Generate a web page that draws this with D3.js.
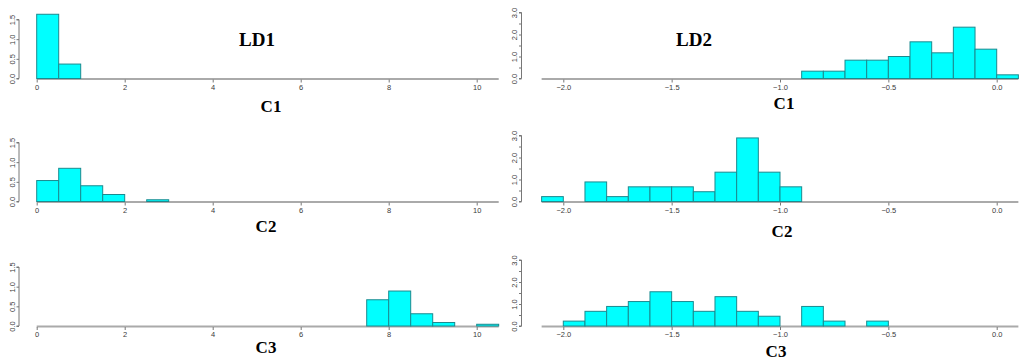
<!DOCTYPE html>
<html><head><meta charset="utf-8">
<script src="https://cdn.jsdelivr.net/npm/d3@7"></script>
<style>
body{margin:0;background:#fff;}
svg{display:block;}
.tick text{font-family:"Liberation Sans",Arial,sans-serif;font-size:7.5px;fill:#3a3a3a;}
</style></head>
<body><svg id="c" width="1024" height="360"></svg>
<script>
// ---- data (density histograms) ----
const ld1Ticks = [0, 2, 4, 6, 8, 10];
const ld2Ticks = [-2.0, -1.5, -1.0, -0.5, 0.0];
const ld1YTicks = [0, 0.5, 1.0, 1.5];
const ld2YTicks = [0, 0.5, 1.0, 1.5, 2.0, 2.5, 3.0];
const ld2YLabels = [0, 1.0, 2.0, 3.0];

const ld1BinWidth = 0.5;
const ld2BinWidth = 0.1;

const ld1C1Start = 0;
const ld1C1 = [1.633, 0.367];
const ld1C2Start = 0;
const ld1C2 = [0.533, 0.844, 0.4, 0.178, 0, 0.044];
const ld1C3Start = 7.5;
const ld1C3 = [0.667, 0.889, 0.311, 0.089, 0, 0.044];

const ld2C1Start = -0.9;
const ld2C1 = [0.333, 0.333, 0.833, 0.833, 1.0, 1.667, 1.167, 2.333, 1.333, 0.167];
const ld2C2Start = -2.1;
const ld2C2 = [0.222, 0, 0.889, 0.222, 0.667, 0.667, 0.667, 0.444, 1.333, 2.889, 1.333, 0.667];
const ld2C3Start = -2.0;
const ld2C3 = [0.222, 0.667, 0.889, 1.111, 1.556, 1.111, 0.667, 1.333, 0.667, 0.444, 0, 0.889, 0.222, 0, 0.222];

const groups = ["C1", "C2", "C3"];
const titles = ["LD1", "LD2"];

// ---- layout ----
const svg = d3.select("#c");
const baselines = [78.5, 201.5, 326];

const panels = [
  {side:0, row:0, start:ld1C1Start, vals:ld1C1, bw:ld1BinWidth},
  {side:0, row:1, start:ld1C2Start, vals:ld1C2, bw:ld1BinWidth},
  {side:0, row:2, start:ld1C3Start, vals:ld1C3, bw:ld1BinWidth},
  {side:1, row:0, start:ld2C1Start, vals:ld2C1, bw:ld2BinWidth},
  {side:1, row:1, start:ld2C2Start, vals:ld2C2, bw:ld2BinWidth},
  {side:1, row:2, start:ld2C3Start, vals:ld2C3, bw:ld2BinWidth},
];

const sides = [
  {x: d3.scaleLinear().domain([0, 10]).range([36.7, 476.7]), line:[0, 10.5],
   ymax:1.5, ypx:59, yAxisX:19, ticks:ld1Ticks, yTicks:ld1YTicks, yLabels:ld1YTicks,
   fmtX: d => d3.format("d")(d), labelX:[271, 266, 266], labelY:[112, 232, 353], title:{x:257, y:46}},
  {x: d3.scaleLinear().domain([-2, 0]).range([563.3, 996.7]), line:[-2.1, 0.1],
   ymax:3.0, ypx:66, yAxisX:521.5, ticks:ld2Ticks, yTicks:ld2YTicks, yLabels:ld2YLabels,
   fmtX: d => d3.format(".1f")(d), labelX:[784, 782, 776], labelY:[109, 237, 357], title:{x:694, y:46}}
];

panels.forEach(p => {
  const s = sides[p.side];
  const base = baselines[p.row];
  const y = d3.scaleLinear().domain([0, s.ymax]).range([base, base - s.ypx]);
  const g = svg.append("g");

  // x baseline (gray)
  g.append("line")
    .attr("x1", s.x(s.line[0])).attr("x2", s.x(s.line[1]))
    .attr("y1", base + 0.5).attr("y2", base + 0.5)
    .attr("stroke", "#aaaaaa").attr("stroke-width", 2);

  // x axis ticks
  const xa = g.append("g").attr("transform", `translate(0,${base + 1})`)
    .call(d3.axisBottom(s.x).tickValues(s.ticks).tickFormat(s.fmtX).tickSize(3).tickPadding(2));
  xa.select(".domain").remove();
  xa.selectAll(".tick line").attr("stroke", "#777");

  // y axis
  const ya = g.append("g").attr("transform", `translate(${s.yAxisX},0)`)
    .call(d3.axisLeft(y).tickValues(s.yTicks).tickSize(2.5)
      .tickFormat(d => s.yLabels.some(v => Math.abs(v - d) < 1e-9) ? d3.format(".1f")(d) : ""));
  ya.select(".domain").attr("stroke", "#777").attr("d", `M-2.5,${y(s.ymax)}H0V${y(0)}H-2.5`);
  ya.selectAll(".tick line").attr("stroke", "#777");
  ya.selectAll(".tick text")
    .attr("transform", "rotate(-90)")
    .attr("x", 0).attr("y", -4.5)
    .attr("dy", "0")
    .attr("text-anchor", "middle");

  // bars
  const bins = p.vals.map((v, i) => ({x0: p.start + i * p.bw, x1: p.start + (i + 1) * p.bw, v}))
    .filter(b => b.v > 0);
  g.selectAll("rect").data(bins).join("rect")
    .attr("x", b => s.x(b.x0))
    .attr("width", b => s.x(b.x1) - s.x(b.x0))
    .attr("y", b => y(b.v))
    .attr("height", b => y(0) - y(b.v))
    .attr("fill", "#00ffff")
    .attr("stroke", "#1b8a8f")
    .attr("stroke-width", 1);

  // group label
  svg.append("text")
    .attr("x", s.labelX[p.row]).attr("y", s.labelY[p.row])
    .attr("text-anchor", "middle")
    .attr("font-family", "'Liberation Serif','Times New Roman',serif")
    .attr("font-weight", "bold").attr("font-size", 17)
    .text(groups[p.row]);
});

sides.forEach((s, i) => {
  svg.append("text")
    .attr("x", s.title.x).attr("y", s.title.y)
    .attr("text-anchor", "middle")
    .attr("font-family", "'Liberation Serif','Times New Roman',serif")
    .attr("font-weight", "bold").attr("font-size", 19)
    .text(titles[i]);
});
</script></body></html>
